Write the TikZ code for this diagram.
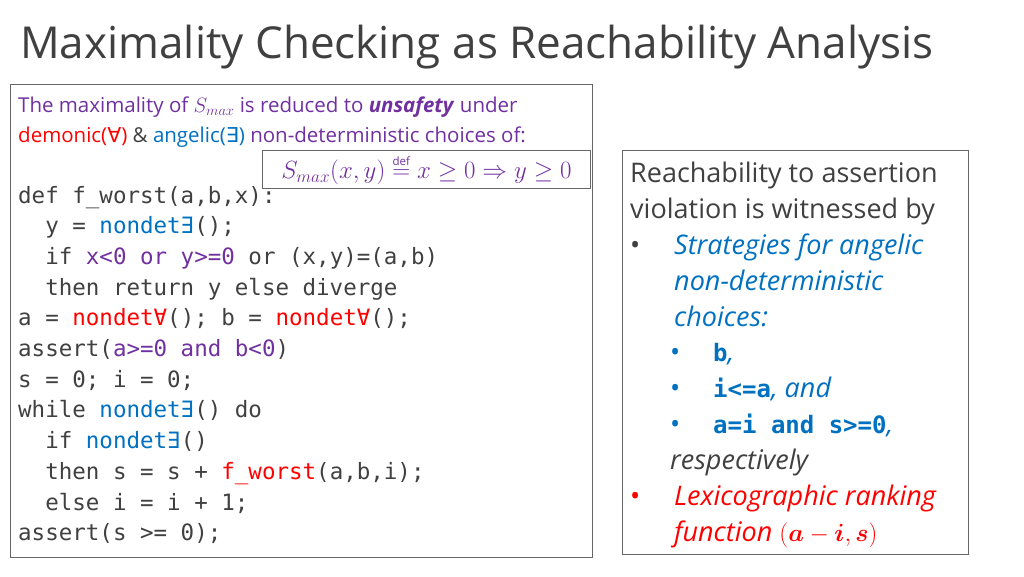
\documentclass[tikz,border=0pt]{standalone}
\usepackage{amsmath,bm}
\usepackage{fontspec}
\setmainfont{Open Sans}
\setmonofont{DejaVu Sans Mono}
\newfontfamily\symf{DejaVu Sans}
\definecolor{pur}{RGB}{112,48,160}
\definecolor{blu}{RGB}{0,112,192}
\definecolor{red}{RGB}{255,0,0}
\definecolor{txt}{RGB}{64,64,64}
\newcommand{\cP}[1]{\textcolor{pur}{#1}}
\newcommand{\cB}[1]{\textcolor{blu}{#1}}
\newcommand{\cR}[1]{\textcolor{red}{#1}}
\begin{document}
\begin{tikzpicture}[x=1pt,y=-1pt,
  box/.style={draw=gray!80!black,line width=1pt},
  code/.style={anchor=base west,inner sep=0pt,text=txt,font=\fontsize{22.5}{26}\ttfamily},
  rt/.style={anchor=base west,inner sep=0pt,text=txt,font=\fontsize{27}{32}\selectfont}]
\useasboundingbox (0,0) rectangle (1024,576);
\node[anchor=base west,inner sep=0pt,text=txt,font=\fontsize{44}{50}\selectfont] (title) at (20,58) {Maximality Checking as Reachability Analysis};
\draw[box] (10,84) rectangle (592,557);
\node[anchor=base west,inner sep=0pt,text=pur,font=\fontsize{20.5}{24}\selectfont] (l1) at (18,112) {The maximality of $S_{max}$ is reduced to \textbf{\textit{unsafety}} under};
\node[anchor=base west,inner sep=0pt,text=pur,font=\fontsize{20.5}{24}\selectfont] (l2) at (18,142) {\cR{demonic({\symf ∀})} \textcolor{txt}{\&} \cB{angelic({\symf ∃})} non-deterministic choices of:};
\node[box,fill=white,anchor=north west,minimum width=328pt,minimum height=38pt,text=pur,font=\fontsize{23}{26}\selectfont] (f) at (262,150) {$S_{max}(x,y)\overset{\scriptscriptstyle\mathrm{def}}{=}x\ge0\Rightarrow y\ge0$};
\foreach \i/\t in {0/{def f\_worst(a,b,x):},
 1/{\ \ y = \cB{nondet∃}();},
 2/{\ \ if \cP{x<0 or y>=0} or (x,y)=(a,b)},
 3/{\ \ then return y else diverge},
 4/{a = \cR{nondet∀}(); b = \cR{nondet∀}();},
 5/{assert(\cP{a>=0 and b<0})},
 6/{s = 0; i = 0;},
 7/{while \cB{nondet∃}() do},
 8/{\ \ if \cB{nondet∃}()},
 9/{\ \ then s = s + \cR{f\_worst}(a,b,i);},
 10/{\ \ else i = i + 1;},
 11/{assert(s >= 0);}}
 \node[code] (c\i) at (18,203+30.7*\i) {\t};
\draw[box] (622,150) rectangle (968,554);
\node[rt] (r1) at (630,182) {Reachability to assertion};
\node[rt] (r2) at (630,218) {violation is witnessed by};
\node[rt] (b1) at (630,254) {•};
\node[rt,text=blu] (r3) at (674,254) {\itshape Strategies for angelic};
\node[rt,text=blu] (r4) at (674,290) {\itshape non-deterministic};
\node[rt,text=blu] (r5) at (674,326) {\itshape choices:};
\node[rt,text=blu] (b2) at (670,361) {•};
\node[rt,text=blu] (s1) at (713,361) {\ttfamily\bfseries\fontsize{24}{28}\selectfont b\rmfamily\mdseries\itshape\fontsize{27}{32}\selectfont,};
\node[rt,text=blu] (b3) at (670,397) {•};
\node[rt,text=blu] (s2) at (713,397) {\ttfamily\bfseries\fontsize{24}{28}\selectfont i<=a\rmfamily\mdseries\itshape\fontsize{27}{32}\selectfont, and};
\node[rt,text=blu] (b4) at (670,433) {•};
\node[rt,text=blu] (s3) at (713,433) {\ttfamily\bfseries\fontsize{24}{28}\selectfont a=i and s>=0\rmfamily\mdseries\itshape\fontsize{27}{32}\selectfont,};
\node[rt] (r6) at (670,469) {\itshape respectively};
\node[rt,text=red] (b5) at (630,505) {•};
\node[rt,text=red] (r7) at (674,505) {\itshape Lexicographic ranking};
\node[rt,text=red] (r8) at (674,541) {\itshape function $(\bm{a}-\bm{i},\bm{s})$};
\end{tikzpicture}
\end{document}
